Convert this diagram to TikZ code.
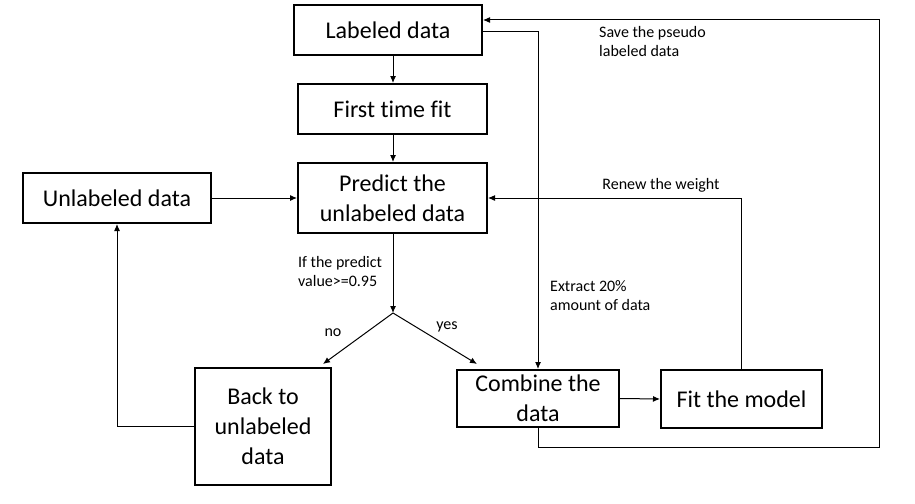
\documentclass[tikz,border=0pt]{standalone}
\usepackage{fontspec}
\setmainfont{Carlito}[Ligatures={NoCommon}]
\usetikzlibrary{arrows.meta}
\begin{document}
\begin{tikzpicture}[x=1pt,y=-1pt,
 box/.style={draw,line width=2pt,align=center,inner sep=0pt,font=\fontsize{24}{30}\selectfont},
 lbl/.style={align=left,inner sep=0pt,font=\fontsize{16}{19.5}\selectfont},
 conn/.style={line width=1pt,-{Latex[length=7pt,width=6pt]}}]
\useasboundingbox[fill=white] (0,0) rectangle (915,503);
\node[box,minimum width=188pt,minimum height=50pt] (lab) at (388,30) {Labeled data};
\node[box,minimum width=189pt,minimum height=50pt] (fit1) at (392.5,109) {First time fit};
\node[box,minimum width=189pt,minimum height=70pt] (pred) at (392.5,198) {Predict the\\unlabeled data};
\node[box,minimum width=188pt,minimum height=50pt] (unl) at (117,198) {Unlabeled data};
\node[box,minimum width=136pt,minimum height=117pt] (back) at (263,426.5) {Back to\\unlabeled\\data};
\node[box,minimum width=162pt,minimum height=57pt] (comb) at (538,398.5) {Combine the\\data};
\node[box,minimum width=161pt,minimum height=58pt] (fitm) at (741.5,399) {Fit the model};

\coordinate (br) at (393,313);
\coordinate (noend) at (323,364);
\coordinate (yesend) at (477,364);
\coordinate (rb) at (879,447);
\coordinate (rt) at (879,20);

\draw[conn] (lab.south -| br) -- (fit1.north -| br);
\draw[conn] (fit1.south -| br) -- (pred.north -| br);
\draw[conn] (unl.east) -- (pred.west);
\draw[conn] (pred.south -| br) -- (br);
\draw[conn] (br) -- (noend);
\draw[conn] (br) -- (yesend);
\draw[conn] (back.west) -- (back.west -| unl) -- (unl.south);
\draw[conn] ([yshift=-2pt]lab.east) -| (comb.north);
\draw[conn] (comb.east) -- (fitm.west);
\draw[conn] (fitm.north) |- (pred.east);
\draw[conn] (comb.south) |- (rb) -- (rt) -- (rt -| lab.east);

\node[lbl,anchor=north west] (lsave) at (599,26) {Save the pseudo\\labeled data};
\node[lbl,anchor=north west] (lif) at (298,256) {If the predict\\value>=0.95};
\node[lbl,anchor=north west] (lext) at (550,280) {Extract 20\%\\amount of data};
\node[lbl] (lrenew) at (661,185) {Renew the weight};
\node[lbl] (lno) at (333,333) {no};
\node[lbl] (lyes) at (447,327) {yes};
\end{tikzpicture}
\end{document}
